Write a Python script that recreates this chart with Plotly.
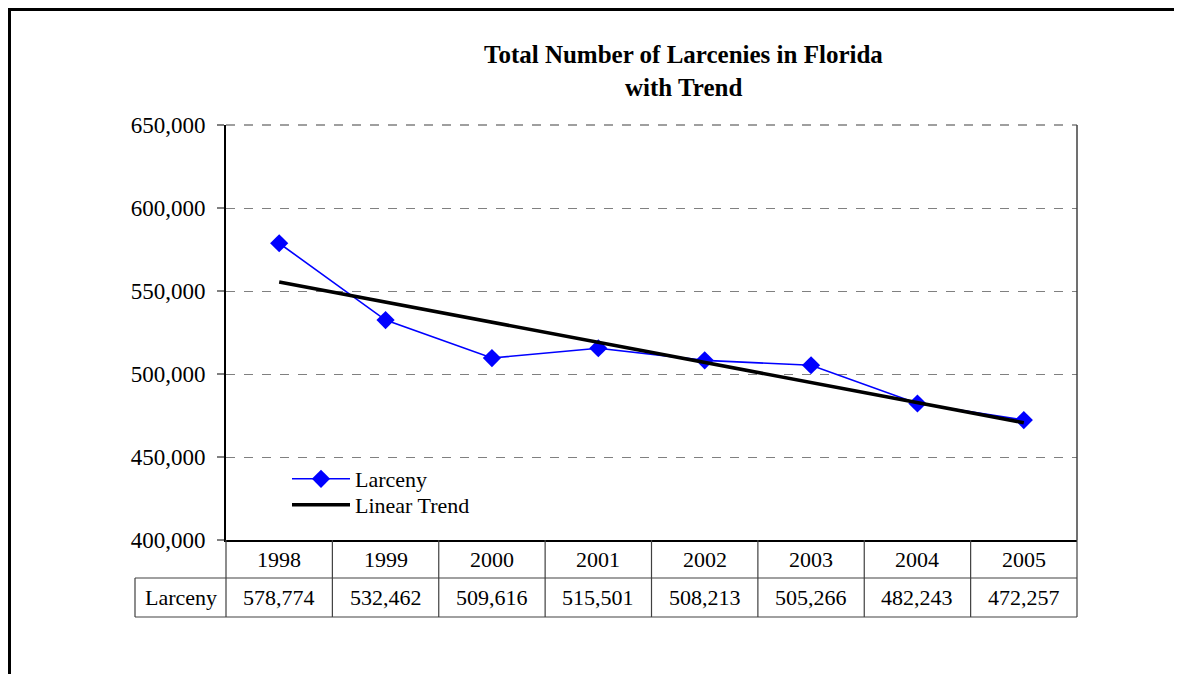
import numpy as np
import plotly.graph_objects as go

years = [1998, 1999, 2000, 2001, 2002, 2003, 2004, 2005]
larceny = [578774, 532462, 509616, 515501, 508213, 505266, 482243, 472257]
y_ticks = [400000, 450000, 500000, 550000, 600000, 650000]
title_lines = ["Total Number of Larcenies in Florida", "with Trend"]
series_name = "Larceny"
trend_name = "Linear Trend"

# linear trend (least squares), as the spreadsheet's trendline
idx = np.arange(len(years))
slope, intercept = np.polyfit(idx, larceny, 1)
trend = list(intercept + slope * idx)

W, H = 1182, 674
OFF = 8  # page body margin
L, R, T, B = 226, 1077, 125, 540
PW, PH = R - L, B - T

def px(x):
    return (x - L) / PW

def py(y):
    return (B - y) / PH

FONT = "Liberation Serif, Times New Roman, serif"
FS = 22

fig = go.Figure()
fig.add_trace(go.Scatter(
    x=years, y=larceny, name=series_name, mode="lines+markers",
    line=dict(color="#0000FF", width=1.6),
    marker=dict(symbol="diamond", size=14, color="#0000FF"),
    legend="legend",
))
fig.add_trace(go.Scatter(
    x=years, y=trend, name=trend_name, mode="lines",
    line=dict(color="#000000", width=3.5),
    legend="legend2",
))

shapes = []
# outer chart border (extends beyond image right/bottom)
shapes.append(dict(type="rect", xref="paper", yref="paper",
                   x0=px(OFF + 1.5), x1=px(1250), y0=py(OFF + 1.5), y1=py(750),
                   line=dict(color="black", width=3), layer="above"))
# top dashed gridline
shapes.append(dict(type="line", xref="paper", yref="paper",
                   x0=0, x1=1, y0=1, y1=1,
                   line=dict(color="#808080", width=1.5, dash="dash")))
# plot area right border
shapes.append(dict(type="line", xref="paper", yref="paper",
                   x0=1, x1=1, y0=0, y1=1, line=dict(color="#404040", width=1.5)))
# table
row1_top, row2_top, row2_bot = 540, 578, 617
label_left = 135
grey = "#808080"
dark = "#404040"
shapes.append(dict(type="line", xref="paper", yref="paper",
                   x0=px(label_left), x1=1, y0=py(row2_top), y1=py(row2_top),
                   line=dict(color=grey, width=1.5)))
shapes.append(dict(type="line", xref="paper", yref="paper",
                   x0=px(label_left), x1=1, y0=py(row2_bot), y1=py(row2_bot),
                   line=dict(color=grey, width=1.5)))
shapes.append(dict(type="line", xref="paper", yref="paper",
                   x0=px(label_left), x1=px(label_left), y0=py(row2_top), y1=py(row2_bot),
                   line=dict(color=dark, width=1.2)))
for xb in [0, 1]:
    shapes.append(dict(type="line", xref="paper", yref="paper",
                       x0=xb, x1=xb, y0=py(row1_top), y1=py(row2_bot),
                       line=dict(color=dark, width=1.2)))
for yr in years[:-1]:
    shapes.append(dict(type="line", xref="x", yref="paper",
                       x0=yr + 0.5, x1=yr + 0.5, y0=py(row1_top), y1=py(row2_bot),
                       line=dict(color=dark, width=1.2)))

annotations = []
for i, line in enumerate(title_lines):
    annotations.append(dict(text="<b>" + line + "</b>", xref="paper", yref="paper",
                            x=px(683), y=py(55 + 32 * i), showarrow=False,
                            xanchor="center", yanchor="middle",
                            font=dict(family=FONT, size=25, color="black")))
for yr, v in zip(years, larceny):
    annotations.append(dict(text=str(yr), xref="x", yref="paper", x=yr,
                            y=py((row1_top + row2_top) / 2), showarrow=False,
                            xanchor="center", yanchor="middle",
                            font=dict(family=FONT, size=FS, color="black")))
    annotations.append(dict(text=f"{v:,}", xref="x", yref="paper", x=yr,
                            y=py((row2_top + row2_bot) / 2), showarrow=False,
                            xanchor="center", yanchor="middle",
                            font=dict(family=FONT, size=FS, color="black")))
annotations.append(dict(text=series_name, xref="paper", yref="paper",
                        x=px((label_left + L) / 2), y=py((row2_top + row2_bot) / 2),
                        showarrow=False, xanchor="center", yanchor="middle",
                        font=dict(family=FONT, size=FS, color="black")))

legend_common = dict(xanchor="left", yanchor="top", bgcolor="rgba(0,0,0,0)",
                     font=dict(family=FONT, size=FS), itemwidth=58,
                     tracegroupgap=0, borderwidth=0)

fig.update_layout(
    width=W - OFF, height=H - OFF,
    margin=dict(l=L - OFF, r=W - R, t=T - OFF, b=H - B, pad=0),
    paper_bgcolor="white", plot_bgcolor="white",
    font=dict(family=FONT, size=FS, color="black"),
    showlegend=True,
    legend=dict(x=px(287), y=py(458), **legend_common),
    legend2=dict(x=px(287), y=py(484), **legend_common),
    shapes=shapes,
    annotations=annotations,
    xaxis=dict(range=[years[0] - 0.5, years[-1] + 0.5], showticklabels=False,
               showgrid=False, zeroline=False, showline=True, linecolor="black",
               linewidth=2, ticks=""),
    yaxis=dict(range=[y_ticks[0], y_ticks[-1]], tickvals=y_ticks,
               ticktext=[f"{t:,}" for t in y_ticks],
               showgrid=True, gridcolor="#808080", griddash="dash", gridwidth=1,
               zeroline=False, showline=True, linecolor="black", linewidth=2,
               ticks="outside", ticklen=7, tickcolor="#808080", tickwidth=1.5,
               ticklabelstandoff=7,
               tickfont=dict(family=FONT, size=FS + 1, color="black")),
)

fig.write_html("out.html")
